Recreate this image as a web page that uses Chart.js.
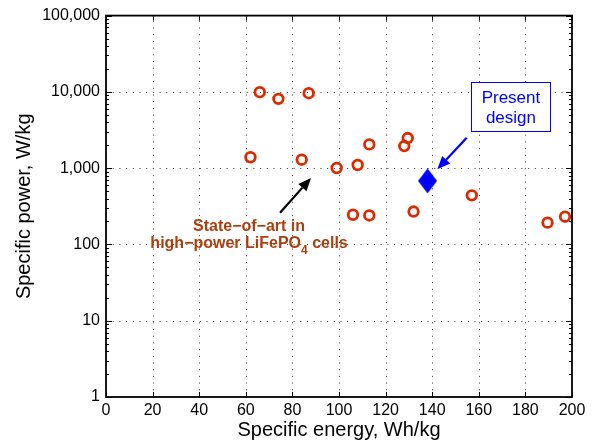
<!DOCTYPE html>
<html>
<head>
<meta charset="utf-8">
<script src="https://cdn.jsdelivr.net/npm/chart.js@4.4.0/dist/chart.umd.min.js"></script>
<style>
  html, body { margin: 0; padding: 0; background: #fff; }
  #wrap { width: 592px; height: 446px; }
</style>
</head>
<body>
<div id="wrap"><canvas id="chart" width="592" height="446"></canvas></div>
<script>
// LiFePO4 cells (state of art)
const energy = [66, 74, 87, 62, 84, 99, 108, 113, 106, 113, 129.5, 128, 157, 132, 189.5, 197];
const power  = [9900, 8100, 9600, 1390, 1290, 1005, 1100, 2050, 245, 240, 2480, 1950, 440, 270, 193, 231];

// present design
const designEnergy = [138];
const designPower  = [680];

const xTicks = [0, 20, 40, 60, 80, 100, 120, 140, 160, 180, 200];
const yTicks = [1, 10, 100, 1000, 10000, 100000];

// annotation anchors, in data units
const litArrow = { from: [74.7, 260], to: [88, 745] };
const litText = { x: 61.4, y1: 171, y2: 102 };
const designArrow = { from: [154.8, 2500], to: [142.2, 968] };
const designBox = { x: 173.8, y: 6300 };

const FONT = "'Liberation Sans', Arial, Helvetica, sans-serif";
const RED = "#dd2a00";
const BROWN = "#ab3f0e";
const BLUE = "#0000ff";

// diamond marker (taller than wide)
const diamond = document.createElement("canvas");
diamond.width = 19;
diamond.height = 25;
(function () {
  const c = diamond.getContext("2d");
  c.fillStyle = BLUE;
  c.beginPath();
  c.moveTo(9.5, 0);
  c.lineTo(19, 12.5);
  c.lineTo(9.5, 25);
  c.lineTo(0, 12.5);
  c.closePath();
  c.fill();
})();

function arrow(ctx, x1, y1, x2, y2, color) {
  const ang = Math.atan2(y2 - y1, x2 - x1);
  const len = 13, half = 5.5;
  const bx = x2 - len * Math.cos(ang), by = y2 - len * Math.sin(ang);
  ctx.strokeStyle = color;
  ctx.fillStyle = color;
  ctx.lineWidth = 2.2;
  ctx.beginPath();
  ctx.moveTo(x1, y1);
  ctx.lineTo(bx, by);
  ctx.stroke();
  ctx.beginPath();
  ctx.moveTo(x2, y2);
  ctx.lineTo(bx + half * Math.sin(ang), by - half * Math.cos(ang));
  ctx.lineTo(bx - half * Math.sin(ang), by + half * Math.cos(ang));
  ctx.closePath();
  ctx.fill();
}

const framePlugin = {
  id: "frame",
  beforeDatasetsDraw(chart) {
    const { ctx, chartArea: a, scales: { x, y } } = chart;
    ctx.save();
    // dotted grid
    ctx.strokeStyle = "#333";
    ctx.lineWidth = 1;
    ctx.setLineDash([1, 5.7]);
    xTicks.slice(1, -1).forEach(v => {
      const px = Math.round(x.getPixelForValue(v)) + 0.5;
      ctx.beginPath(); ctx.moveTo(px, a.bottom); ctx.lineTo(px, a.top); ctx.stroke();
    });
    yTicks.slice(1, -1).forEach(v => {
      const py = Math.round(y.getPixelForValue(v)) + 0.5;
      ctx.beginPath(); ctx.moveTo(a.left, py); ctx.lineTo(a.right, py); ctx.stroke();
    });
    ctx.setLineDash([]);
    // inward ticks
    ctx.strokeStyle = "#000";
    ctx.lineWidth = 1;
    xTicks.forEach(v => {
      const px = Math.round(x.getPixelForValue(v)) + 0.5;
      ctx.beginPath();
      ctx.moveTo(px, a.bottom); ctx.lineTo(px, a.bottom - 5);
      ctx.moveTo(px, a.top); ctx.lineTo(px, a.top + 5);
      ctx.stroke();
    });
    yTicks.forEach((v, i) => {
      const py = Math.round(y.getPixelForValue(v)) + 0.5;
      ctx.beginPath();
      ctx.moveTo(a.left, py); ctx.lineTo(a.left + 6, py);
      ctx.moveTo(a.right, py); ctx.lineTo(a.right - 6, py);
      ctx.stroke();
      if (i < yTicks.length - 1) {
        for (let m = 2; m <= 9; m++) {
          const pm = Math.round(y.getPixelForValue(v * m)) + 0.5;
          ctx.beginPath();
          ctx.moveTo(a.left, pm); ctx.lineTo(a.left + 3, pm);
          ctx.moveTo(a.right, pm); ctx.lineTo(a.right - 3, pm);
          ctx.stroke();
        }
      }
    });
    ctx.restore();
  },
  afterDraw(chart) {
    const { ctx, chartArea: a, scales: { x, y } } = chart;
    ctx.save();
    ctx.strokeStyle = "#000";
    ctx.lineWidth = 1.8;
    ctx.strokeRect(a.left, a.top, a.right - a.left, a.bottom - a.top);

    // black arrow + brown label
    arrow(ctx,
      x.getPixelForValue(litArrow.from[0]), y.getPixelForValue(litArrow.from[1]),
      x.getPixelForValue(litArrow.to[0]), y.getPixelForValue(litArrow.to[1]), "#000");
    ctx.fillStyle = BROWN;
    ctx.font = "bold 16px " + FONT;
    ctx.textBaseline = "middle";
    ctx.textAlign = "center";
    const cx = x.getPixelForValue(litText.x);
    ctx.fillText("State\u2212of\u2212art in", cx, y.getPixelForValue(litText.y1));
    const y2 = y.getPixelForValue(litText.y2);
    const p1 = "high\u2212power LiFePO", p3 = " cells";
    const w1 = ctx.measureText(p1).width, w3 = ctx.measureText(p3).width;
    ctx.font = "bold 12px " + FONT;
    const w2 = ctx.measureText("4").width;
    const sx = cx - (w1 + w2 + w3) / 2;
    ctx.textAlign = "left";
    ctx.font = "bold 16px " + FONT;
    ctx.fillText(p1, sx, y2);
    ctx.font = "bold 12px " + FONT;
    ctx.fillText("4", sx + w1, y2 + 7);
    ctx.font = "bold 16px " + FONT;
    ctx.fillText(p3, sx + w1 + w2, y2);

    // blue arrow + boxed label
    arrow(ctx,
      x.getPixelForValue(designArrow.from[0]), y.getPixelForValue(designArrow.from[1]),
      x.getPixelForValue(designArrow.to[0]), y.getPixelForValue(designArrow.to[1]), BLUE);
    const bx = x.getPixelForValue(designBox.x), by = y.getPixelForValue(designBox.y);
    ctx.fillStyle = "#fff";
    ctx.fillRect(bx - 40, by - 25, 80, 50);
    ctx.strokeStyle = BLUE;
    ctx.lineWidth = 1;
    ctx.strokeRect(Math.round(bx - 40) + 0.5, Math.round(by - 25) + 0.5, 79, 49);
    ctx.fillStyle = BLUE;
    ctx.font = "17px " + FONT;
    ctx.textAlign = "center";
    ctx.fillText("Present", bx, by - 9);
    ctx.fillText("design", bx, by + 11);
    ctx.restore();
  }
};

new Chart(document.getElementById("chart"), {
  type: "scatter",
  data: {
    datasets: [
      {
        data: energy.map((e, i) => ({ x: e, y: power[i] })),
        pointStyle: "circle",
        pointRadius: 4.8,
        pointBorderWidth: 2.8,
        pointBorderColor: RED,
        pointBackgroundColor: "rgba(0,0,0,0)"
      },
      {
        data: designEnergy.map((e, i) => ({ x: e, y: designPower[i] })),
        pointStyle: diamond,
        pointRadius: 10
      }
    ]
  },
  options: {
    responsive: false,
    animation: false,
    events: [],
    layout: { padding: { left: 0, top: 14, right: 20, bottom: 0 } },
    plugins: { legend: { display: false }, tooltip: { enabled: false } },
    scales: {
      x: {
        type: "linear",
        min: 0,
        max: 200,
        afterFit: s => { s.height = 49; },
        afterBuildTicks: s => { s.ticks = xTicks.map(v => ({ value: v })); },
        grid: { display: false, drawTicks: false },
        border: { display: false },
        ticks: { autoSkip: false, maxRotation: 0, padding: 4, color: "#000", font: { family: FONT, size: 16 } },
        title: { display: true, text: "Specific energy, Wh/kg", color: "#000", font: { family: FONT, size: 20 }, padding: { top: 0, bottom: 4 } }
      },
      y: {
        type: "logarithmic",
        min: 1,
        max: 100000,
        afterFit: s => { s.width = 106; },
        afterBuildTicks: s => { s.ticks = yTicks.map(v => ({ value: v })); },
        grid: { display: false, drawTicks: false },
        border: { display: false },
        ticks: {
          autoSkip: false, padding: 6, color: "#000", font: { family: FONT, size: 16 },
          callback: v => v.toLocaleString("en-US")
        },
        title: { display: true, text: "Specific power, W/kg", color: "#000", font: { family: FONT, size: 20 }, padding: { top: 12, bottom: 0 } }
      }
    }
  },
  plugins: [framePlugin]
});
</script>
</body>
</html>
